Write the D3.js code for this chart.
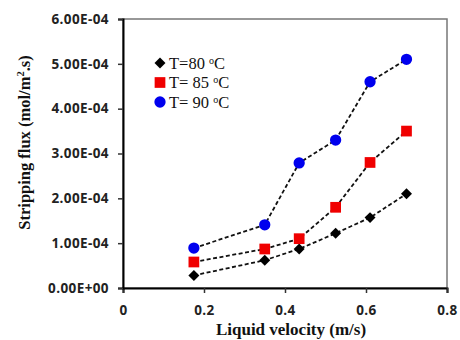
<!DOCTYPE html>
<html>
<head>
<meta charset="utf-8">
<script src="https://cdn.jsdelivr.net/npm/d3@7"></script>
<style>
body { margin: 0; background: #fff; }
.tick text { font-family: "Open Sans", "DejaVu Sans", sans-serif; font-weight: bold; font-size: 13.5px; letter-spacing: 0.4px; fill: #222; }
.axisText { font-family: "Liberation Serif", "Times New Roman", serif; font-weight: bold; fill: #111; }
</style>
</head>
<body>
<div id="chart"></div>
<script>
// values
var velocity = [0.175, 0.35, 0.435, 0.525, 0.61, 0.70];
var flux80 = [2.8e-5, 6.2e-5, 8.7e-5, 1.22e-4, 1.57e-4, 2.1e-4];
var flux85 = [5.8e-5, 8.7e-5, 1.1e-4, 1.8e-4, 2.8e-4, 3.5e-4];
var flux90 = [8.9e-5, 1.41e-4, 2.79e-4, 3.3e-4, 4.6e-4, 5.1e-4];
var seriesNames = ["T=80 ", "T= 85 ", "T= 90 "];
var xTicks = [0, 0.2, 0.4, 0.6, 0.8];
var yTicks = [0, 1e-4, 2e-4, 3e-4, 4e-4, 5e-4, 6e-4];

var svgWidth = 460;
var svgHeight = 340;
var margin = {t: 19, r: 13, b: 52, l: 123};
var width = svgWidth - margin.l - margin.r;
var height = svgHeight - margin.t - margin.b;

var svg = d3.select("#chart")
    .append("svg")
    .attr("width", svgWidth)
    .attr("height", svgHeight);

var chartGroup = svg.append("g")
    .attr("transform", `translate(${margin.l}, ${margin.t})`);

var xScale = d3.scaleLinear().domain([0, 0.8]).range([0, width]);
var yScale = d3.scaleLinear().domain([0, 6e-4]).range([height, 0]);

// grey frame top/right
chartGroup.append("rect")
    .attr("width", width)
    .attr("height", height)
    .attr("fill", "none")
    .attr("stroke", "#777")
    .attr("stroke-width", 1.5);

var bottomAxis = d3.axisBottom(xScale).tickValues(xTicks)
    .tickFormat(d => d === 0 ? "0" : d3.format(".1f")(d))
    .tickSizeOuter(0).tickSize(5).tickPadding(12);
var leftAxis = d3.axisLeft(yScale).tickValues(yTicks)
    .tickFormat(d => d.toExponential(2).toUpperCase().replace(/E([+-])(\d)$/, "E$10$2"))
    .tickSizeOuter(0).tickSize(5).tickPadding(9);

var xg = chartGroup.append("g")
    .attr("transform", `translate(0, ${height})`)
    .call(bottomAxis);
var yg = chartGroup.append("g")
    .call(leftAxis);
[xg, yg].forEach(function(g) {
    g.select(".domain").attr("stroke", "#000").attr("stroke-width", 2);
    g.selectAll(".tick line").attr("stroke", "#333").attr("stroke-width", 1.5);
});

var series = [
    {name: seriesNames[0], values: flux80, color: "#000", shape: d3.symbolSquare, size: 60, rot: 45},
    {name: seriesNames[1], values: flux85, color: "#f00000", shape: d3.symbolSquare, size: 115, rot: 0},
    {name: seriesNames[2], values: flux90, color: "#0000ee", shape: d3.symbolCircle, size: 100, rot: 0}
];

var line = d3.line()
    .x((d, i) => xScale(velocity[i]))
    .y(d => yScale(d));

series.forEach(function(s) {
    chartGroup.append("path")
        .attr("d", line(s.values))
        .attr("fill", "none")
        .attr("stroke", "#111")
        .attr("stroke-width", 1.8)
        .attr("stroke-dasharray", "4,2.5");
});

series.forEach(function(s) {
    chartGroup.selectAll(null)
        .data(s.values)
        .enter()
        .append("path")
        .attr("transform", (d, i) => `translate(${xScale(velocity[i])}, ${yScale(d)}) rotate(${s.rot})`)
        .attr("d", d3.symbol().type(s.shape).size(s.size))
        .attr("fill", s.color);
});

// legend
var legend = chartGroup.append("g")
    .attr("transform", "translate(37, 44)");
series.forEach(function(s, i) {
    var row = legend.append("g").attr("transform", `translate(0, ${i * 19.5})`);
    row.append("path")
        .attr("transform", `rotate(${s.rot})`)
        .attr("d", d3.symbol().type(s.shape).size(s.size))
        .attr("fill", s.color);
    var t = row.append("text")
        .attr("x", 9)
        .attr("y", 5.5)
        .attr("font-family", "Liberation Serif, Times New Roman, serif")
        .attr("font-size", "16.5px")
        .attr("fill", "#111");
    t.append("tspan").text(s.name);
    t.append("tspan").attr("dy", -5).attr("font-size", "10px").text("o");
    t.append("tspan").attr("dy", 5).text("C");
});

var yLabel = chartGroup.append("text")
    .attr("transform", "rotate(-90)")
    .attr("x", 0 - (height / 2) + 11)
    .attr("y", 0 - margin.l + 30)
    .attr("text-anchor", "middle")
    .attr("class", "axisText")
    .attr("font-size", "16.5px");
yLabel.append("tspan").text("Stripping flux (mol/m");
yLabel.append("tspan").attr("dy", -6).attr("font-size", "10.5px").text("2");
yLabel.append("tspan").attr("dy", 6).text(".s)");

chartGroup.append("text")
    .attr("transform", `translate(${width / 2 + 6}, ${height + 47})`)
    .attr("text-anchor", "middle")
    .attr("class", "axisText")
    .attr("font-size", "17px")
    .text("Liquid velocity (m/s)");
</script>
</body>
</html>
